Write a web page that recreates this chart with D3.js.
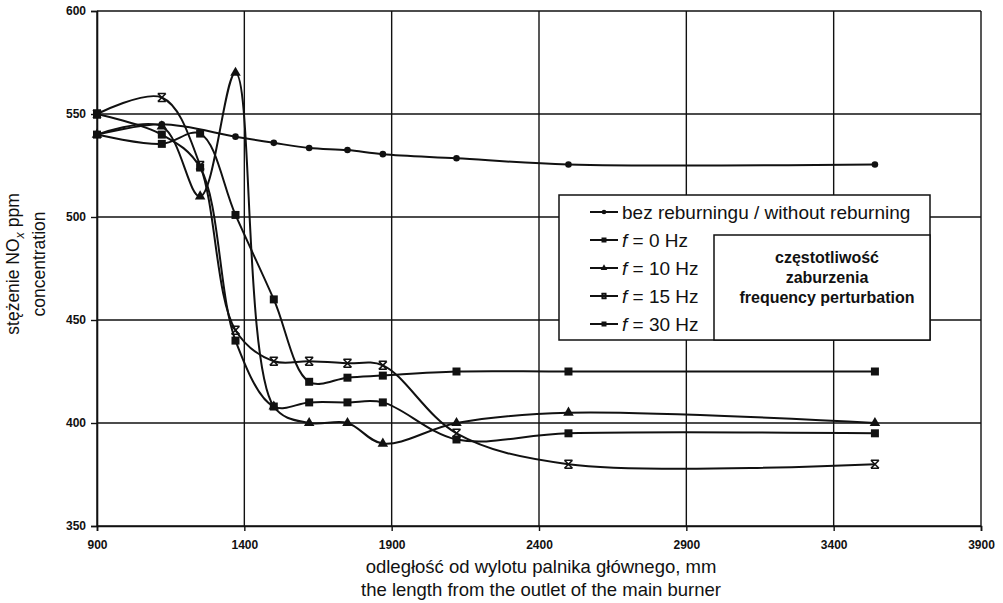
<!DOCTYPE html>
<html>
<head>
<meta charset="utf-8">
<script src="https://cdn.jsdelivr.net/npm/d3@7"></script>
<style>
  body { margin: 0; background: #fff; }
  svg { font-family: Arial, "Liberation Sans", sans-serif; }
</style>
</head>
<body>
<svg id="chart" width="1003" height="603"></svg>
<script>
// odległość od wylotu palnika [mm] and NOx [ppm]
const distBez = [900, 1120, 1370, 1500, 1620, 1750, 1870, 2120, 2500, 3540]
const noxBez = [540, 545, 539, 536, 533.5, 532.5, 530.5, 528.5, 525.5, 525.5]

const distF = [900, 1120, 1250, 1370, 1500, 1620, 1750, 1870, 2120, 2500, 3540]
const nox0Hz = [540, 535.5, 540.5, 501, 460, 420, 422, 423, 425, 425, 425]
const nox10Hz = [540, 544, 510, 570, 408, 400, 400, 390, 400, 405, 400]
const nox15Hz = [550, 558, 525, 445, 430, 430, 429, 428, 395, 380, 380]
const nox30Hz = [550, 540, 524, 440, 408, 410, 410, 410, 392, 395, 395]

const xTicks = [900, 1400, 1900, 2400, 2900, 3400, 3900]
const yTicks = [350, 400, 450, 500, 550, 600]

const seriesList = [
  { name: 'bez', label: 'bez reburningu / without reburning', marker: 'circle', xs: distBez, ys: noxBez },
  { name: 'f0', label: '= 0 Hz', marker: 'square', xs: distF, ys: nox0Hz },
  { name: 'f10', label: '= 10 Hz', marker: 'triangle', xs: distF, ys: nox10Hz },
  { name: 'f15', label: '= 15 Hz', marker: 'cross', xs: distF, ys: nox15Hz },
  { name: 'f30', label: '= 30 Hz', marker: 'square', xs: distF, ys: nox30Hz }
]

var svg = d3.select('#chart')
var plotLeft = 97, plotRight = 981, plotTop = 11, plotBottom = 526

const x = d3.scaleLinear().domain([900, 3900]).range([plotLeft, plotRight])
const y = d3.scaleLinear().domain([350, 600]).range([plotBottom, plotTop])

// grid
svg.append('g')
  .selectAll('line')
  .data(yTicks)
  .enter()
  .append('line')
  .attr('x1', plotLeft).attr('x2', plotRight)
  .attr('y1', d => y(d)).attr('y2', d => y(d))
  .style('stroke', '#111').style('stroke-width', 1.4)

svg.append('g')
  .selectAll('line')
  .data(xTicks)
  .enter()
  .append('line')
  .attr('x1', d => x(d)).attr('x2', d => x(d))
  .attr('y1', plotTop).attr('y2', plotBottom)
  .style('stroke', '#111').style('stroke-width', 1.4)

svg.append('g')
  .attr('transform', 'translate(0,' + plotBottom + ')')
  .call(d3.axisBottom(x).tickValues(xTicks).tickSize(5).tickPadding(9).tickFormat(d3.format('d')))
svg.append('g')
  .attr('transform', 'translate(' + plotLeft + ',0)')
  .call(d3.axisLeft(y).tickValues(yTicks).tickSize(6).tickPadding(5).tickFormat(d3.format('d')))

svg.selectAll('.domain').style('stroke', '#111').style('stroke-width', 1.6)
svg.selectAll('.tick line').style('stroke', '#111').style('stroke-width', 1.4)
svg.selectAll('.tick text')
  .style('font-family', 'Arial, "Liberation Sans", sans-serif')
  .style('font-size', '12px')
  .style('font-weight', 'bold')
  .style('fill', '#111')

// axis titles
svg.append('text')
  .attr('x', 541).attr('y', 573)
  .attr('text-anchor', 'middle')
  .style('font-size', '18.5px')
  .style('fill', '#111')
  .text('odległość od wylotu palnika głównego, mm')

svg.append('text')
  .attr('x', 541).attr('y', 596)
  .attr('text-anchor', 'middle')
  .style('font-size', '18.5px')
  .style('fill', '#111')
  .text('the length from the outlet of the main burner')

var yTitle = svg.append('text')
  .attr('transform', 'translate(19,264) rotate(-90)')
  .attr('text-anchor', 'middle')
  .style('font-size', '17.5px')
  .style('fill', '#111')
yTitle.append('tspan').text('stężenie  NO')
yTitle.append('tspan').attr('dy', 5).style('font-size', '12.5px').style('font-style', 'italic').text('x')
yTitle.append('tspan').attr('dy', -5).text('  ppm')

svg.append('text')
  .attr('transform', 'translate(45,264) rotate(-90)')
  .attr('text-anchor', 'middle')
  .style('font-size', '17.5px')
  .style('fill', '#111')
  .text('concentration')

// markers
const drawMarker = (g, type, size) => {
  if (type === 'cross') {
    const s = size / 2
    g.append('path')
      .attr('d', `M${-s},${-s}L${s},${s}M${s},${-s}L${-s},${s}M${-s},${-s}L${s},${-s}M${-s},${s}L${s},${s}`)
      .style('fill', 'none').style('stroke', '#111').style('stroke-width', 1.6)
  } else {
    const sym = type === 'circle' ? d3.symbolCircle : type === 'square' ? d3.symbolSquare : d3.symbolTriangle
    const area = type === 'circle' ? size * size * 0.7 : type === 'square' ? size * size : size * size * 0.75
    g.append('path')
      .attr('d', d3.symbol().type(sym).size(area)())
      .style('fill', '#111')
  }
}

var line = d3.line()
  .x(d => x(d[0]))
  .y(d => y(d[1]))
  .curve(d3.curveCatmullRom.alpha(0.5))

seriesList.forEach(s => {
  const pts = s.xs.map((v, i) => [v, s.ys[i]])
  svg.append('path')
    .datum(pts)
    .attr('d', line)
    .style('fill', 'none')
    .style('stroke', '#111')
    .style('stroke-width', 2)

  svg.append('g')
    .selectAll('g')
    .data(pts)
    .enter()
    .append('g')
    .attr('transform', d => 'translate(' + x(d[0]) + ',' + y(d[1]) + ')')
    .each(function () { drawMarker(d3.select(this), s.marker, s.marker === 'circle' ? 7 : 8) })
})

// legend
svg.append('rect')
  .attr('x', 559).attr('y', 195).attr('width', 371).attr('height', 145)
  .style('fill', '#fff').style('stroke', '#111').style('stroke-width', 1.5)

svg.append('rect')
  .attr('x', 714).attr('y', 235).attr('width', 216).attr('height', 105)
  .style('fill', '#fff').style('stroke', '#111').style('stroke-width', 1.5)

const legendY = [212, 240, 268, 296, 324]
var legend = svg.append('g')
  .selectAll('g')
  .data(seriesList)
  .enter()
  .append('g')
  .attr('transform', (d, i) => 'translate(0,' + legendY[i] + ')')

legend.append('line')
  .attr('x1', 590).attr('x2', 618)
  .style('stroke', '#111').style('stroke-width', 2)
legend.each(function (d) {
  const g = d3.select(this).append('g').attr('transform', 'translate(604,0)')
  drawMarker(g, d.marker, 5)
})

var legendText = legend.append('text')
  .attr('x', 622)
  .attr('dy', '0.35em')
  .style('font-size', '19px')
  .style('fill', '#111')
legendText.filter(d => d.name !== 'bez')
  .append('tspan').style('font-style', 'italic').text('f ')
legendText.append('tspan').text(d => d.label)

const boxLines = ['częstotliwość', 'zaburzenia', 'frequency perturbation']
svg.append('g')
  .selectAll('text')
  .data(boxLines)
  .enter()
  .append('text')
  .attr('x', 827)
  .attr('y', (d, i) => 257 + i * 20)
  .attr('dy', '0.35em')
  .attr('text-anchor', 'middle')
  .style('font-size', '16px')
  .style('font-weight', 'bold')
  .style('fill', '#111')
  .text(d => d)
</script>
</body>
</html>
